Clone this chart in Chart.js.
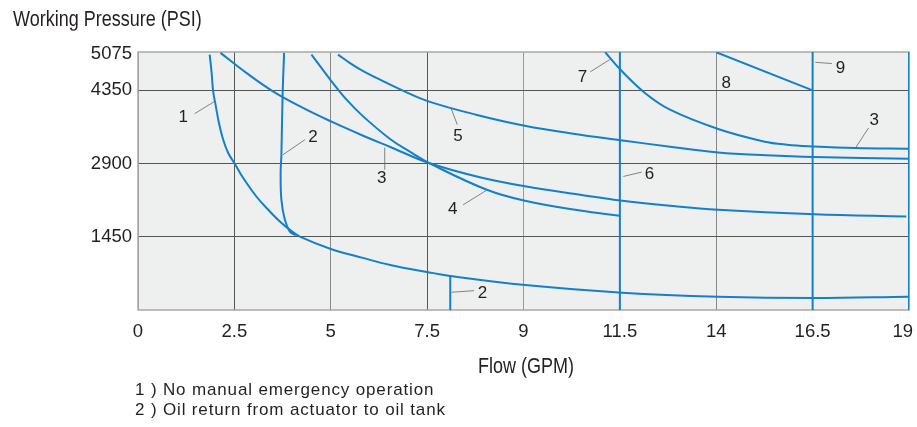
<!DOCTYPE html>
<html>
<head>
<meta charset="utf-8">
<script src="https://cdn.jsdelivr.net/npm/chart.js@4.4.0/dist/chart.umd.min.js"></script>
<style>
  html, body { margin: 0; padding: 0; background: #fff; }
  #wrap { position: relative; width: 917px; height: 427px; overflow: hidden; }
  canvas { position: absolute; left: 0; top: 0; }
  .tall { position: absolute; font-size: 18px; line-height: 18px; white-space: nowrap;
    font-family: 'Liberation Sans', Arial, sans-serif; color: #231f20;
    transform: scaleY(1.25); transform-origin: 0 0; }
  .ytitle { left: 13px; top: 7px; }
  .xtitle { left: 426px; top: 354px; width: 200px; text-align: center; }
  .notes { position: absolute; left: 135px; top: 380px; font-size: 17px; line-height: 20px;
    font-family: 'Liberation Sans', Arial, sans-serif; color: #231f20; letter-spacing: 0.85px; }
</style>
</head>
<body>
<div id="wrap">
  <canvas id="myChart" width="917" height="427"></canvas>
  <div class="tall ytitle">Working Pressure (PSI)</div>
  <div class="tall xtitle">Flow (GPM)</div>
  <div class="notes">1 ) No manual emergency operation<br>2 ) Oil return from actuator to oil tank</div>
</div>
<script>
// axis ticks (x ticks are evenly spaced on the chart, values are not)
const flowTicks = [0, 2.5, 5, 7.5, 9, 11.5, 14, 16.5, 19];
const pressureTicks = [1450, 2900, 4350, 5075];

// curves: flow (GPM) and working pressure (PSI)
const curve1Flow = [1.86, 1.91, 1.95, 2.02, 2.1, 2.21, 2.34, 2.51, 2.73, 3.07, 3.42, 3.68, 3.94, 4.2, 5.02, 5.83, 6.54, 7.52, 7.86, 9.04, 11.56, 14.05, 16.54, 18.98];
const curve1Psi = [5059, 4696, 4331, 4033, 3704, 3373, 3109, 2897, 2613, 2248, 1950, 1752, 1587, 1454, 1204, 1032, 893, 748, 675, 496, 343, 264, 238, 264];

const curve2Flow = [3.79, 3.75, 3.72, 3.7, 3.72, 3.81, 3.94, 4.09];
const curve2Psi = [5093, 4232, 3075, 2718, 2182, 1786, 1553, 1478];

const curve2bFlow = [7.86, 7.86];
const curve2bPsi = [675, 0];

const curve3Flow = [2.14, 2.81, 3.5, 4.28, 5.02, 5.84, 6.53, 7.53, 8.32, 9.04, 10.47, 11.57, 12.8, 14.05, 16.54, 18.93];
const curve3Psi = [5093, 4696, 4331, 4002, 3730, 3452, 3234, 2911, 2629, 2450, 2282, 2163, 2063, 1984, 1895, 1851];

const curve4Flow = [4.5, 5.02, 5.41, 5.84, 6.53, 7.05, 7.53, 8.43, 9.04, 10.47, 11.5];
const curve4Psi = [5059, 4530, 4166, 3835, 3393, 3135, 2911, 2381, 2163, 1970, 1865];

const curve5Flow = [5.19, 5.5, 5.84, 6.28, 6.9, 7.52, 8.26, 9.03, 10.29, 11.57, 12.8, 14.05, 15.3, 16.53, 19];
const curve5Psi = [5059, 4891, 4732, 4563, 4335, 4133, 3869, 3651, 3492, 3359, 3234, 3121, 3065, 3030, 2996];

const curve6Flow = [11.5, 11.5];
const curve6Psi = [0, 5110];

const curve7Flow = [11.12, 11.51, 12.15, 12.8, 14.05, 15.23, 15.83, 16.53, 17.61, 19];
const curve7Psi = [5105, 4762, 4299, 3968, 3585, 3339, 3274, 3240, 3208, 3194];

const curve8Flow = [14, 16.5];
const curve8Psi = [5105, 4350];

const curve9Flow = [16.5, 16.5];
const curve9Psi = [0, 5110];

const edgeFlow = [19, 19];
const edgePsi = [0, 5110];

// curve labels: text, label position, leader line from -> to
const curveLabels = [
  { text: "1", at: [1.17, 3823], line: [[1.47, 3889], [1.99, 4133]] },
  { text: "2", at: [4.54, 3426], line: [[4.33, 3373], [3.76, 3075]] },
  { text: "3", at: [6.32, 2613], line: [[6.4, 2778], [6.4, 3214]] },
  { text: "5", at: [7.98, 3438], line: [[7.97, 3670], [7.87, 4002]] },
  { text: "7", at: [10.53, 4617], line: [[10.73, 4716], [11.24, 4960]] },
  { text: "8", at: [14.26, 4498], line: null },
  { text: "9", at: [17.22, 4795], line: [[17.0, 4881], [16.57, 4906]] },
  { text: "3", at: [18.1, 3756], line: [[17.95, 3605], [17.61, 3208]] },
  { text: "6", at: [12.27, 2678], line: [[12.07, 2732], [11.59, 2645]] },
  { text: "4", at: [7.9, 1998], line: [[8.06, 2083], [8.42, 2367]] },
  { text: "2", at: [8.36, 331], line: [[8.23, 383], [7.88, 351]] },
];

// flow value -> position on the evenly spaced axis
function flowPos(f) {
  for (let i = 1; i < flowTicks.length; i++) {
    if (f <= flowTicks[i]) {
      return i - 1 + (f - flowTicks[i - 1]) / (flowTicks[i] - flowTicks[i - 1]);
    }
  }
  return flowTicks.length - 1;
}

const blue = "#1480c8";
function curve(flows, psi, tension) {
  return {
    data: flows.map((f, i) => ({ x: flowPos(f), y: psi[i] })),
    borderColor: blue,
    borderWidth: 2,
    pointRadius: 0,
    tension: tension,
    fill: false,
  };
}

const xGridColors = ["#999", "#555", "#888", "#555", "#999", "#555", "#888", "#555", "#999"];
const tickFont = "18.5px 'Liberation Sans', Arial, sans-serif";

const plotBack = {
  id: "plotBack",
  beforeDraw(chart) {
    const { ctx, chartArea: a } = chart;
    ctx.save();
    ctx.fillStyle = "#eeefef";
    ctx.fillRect(a.left, a.top, a.width, a.height);
    ctx.restore();
  },
  beforeDatasetsDraw(chart) {
    const { ctx, chartArea: a } = chart;
    ctx.save();
    ctx.strokeStyle = "#a8a8a8";
    ctx.lineWidth = 1.5;
    ctx.strokeRect(a.left, a.top, a.width, a.height);
    ctx.restore();
  },
};

// x tick labels drawn by hand so the last one stays inside the page
const xLabels = {
  id: "xLabels",
  afterDraw(chart) {
    const { ctx, chartArea: a } = chart;
    const xs = chart.scales.x;
    ctx.save();
    ctx.font = tickFont;
    ctx.fillStyle = "#231f20";
    ctx.textAlign = "center";
    ctx.textBaseline = "middle";
    flowTicks.forEach((v, i) => {
      const t = String(v);
      const w = ctx.measureText(t).width;
      const x = Math.min(xs.getPixelForValue(i), chart.width - 4 - w / 2);
      ctx.fillText(t, x, a.bottom + 22);
    });
    ctx.restore();
  },
};

const labelPlugin = {
  id: "curveLabels",
  afterDatasetsDraw(chart) {
    const { ctx } = chart;
    const xs = chart.scales.x;
    const ys = chart.scales.y;
    const px = (p) => [xs.getPixelForValue(flowPos(p[0])), ys.getPixelForValue(p[1])];
    ctx.save();
    ctx.font = "17px 'Liberation Sans', Arial, sans-serif";
    ctx.fillStyle = "#231f20";
    ctx.textAlign = "center";
    ctx.textBaseline = "middle";
    ctx.strokeStyle = "#666";
    ctx.lineWidth = 0.8;
    curveLabels.forEach((l) => {
      const [tx, ty] = px(l.at);
      ctx.fillText(l.text, tx, ty);
      if (l.line) {
        const a = px(l.line[0]);
        const b = px(l.line[1]);
        ctx.beginPath();
        ctx.moveTo(a[0], a[1]);
        ctx.lineTo(b[0], b[1]);
        ctx.stroke();
      }
    });
    ctx.restore();
  },
};

const config = {
  type: "line",
  data: {
    datasets: [
      curve(curve1Flow, curve1Psi, 0.4),
      curve(curve2Flow, curve2Psi, 0.4),
      curve(curve2bFlow, curve2bPsi, 0),
      curve(curve3Flow, curve3Psi, 0.4),
      curve(curve4Flow, curve4Psi, 0.4),
      curve(curve5Flow, curve5Psi, 0.4),
      curve(curve6Flow, curve6Psi, 0),
      curve(curve7Flow, curve7Psi, 0.4),
      curve(curve8Flow, curve8Psi, 0),
      curve(curve9Flow, curve9Psi, 0),
      curve(edgeFlow, edgePsi, 0),
    ],
  },
  options: {
    responsive: false,
    animation: false,
    layout: { padding: { left: 0, top: 52, right: 8, bottom: 0 } },
    scales: {
      x: {
        type: "linear",
        min: 0,
        max: flowTicks.length - 1,
        afterBuildTicks: (scale) => {
          scale.ticks = flowTicks.map((v, i) => ({ value: i }));
        },
        afterFit: (scale) => {
          scale.height = 117;
          scale.paddingLeft = 0;
          scale.paddingRight = 0;
        },
        grid: {
          drawTicks: false,
          color: (c) => xGridColors[c.index] || "#555",
          lineWidth: 1,
        },
        border: { display: false },
        ticks: { display: false },
      },
      y: {
        type: "linear",
        min: 0,
        max: 5110,
        afterBuildTicks: (scale) => {
          scale.ticks = pressureTicks.map((v) => ({ value: v }));
        },
        afterFit: (scale) => {
          scale.width = 138;
          scale.paddingTop = 0;
          scale.paddingBottom = 0;
        },
        grid: {
          drawTicks: false,
          color: (c) => (c.tick && c.tick.value === 5075 ? "rgba(0,0,0,0)" : "#555"),
          lineWidth: 1,
        },
        border: { display: false },
        ticks: {
          padding: 6,
          color: "#231f20",
          font: { family: "'Liberation Sans', Arial, sans-serif", size: 18.5 },
          callback: (v) => String(v),
        },
      },
    },
    plugins: {
      legend: { display: false },
      tooltip: { enabled: false },
    },
  },
  plugins: [plotBack, xLabels, labelPlugin],
};

const myChart = new Chart(document.getElementById("myChart"), config);
</script>
</body>
</html>
